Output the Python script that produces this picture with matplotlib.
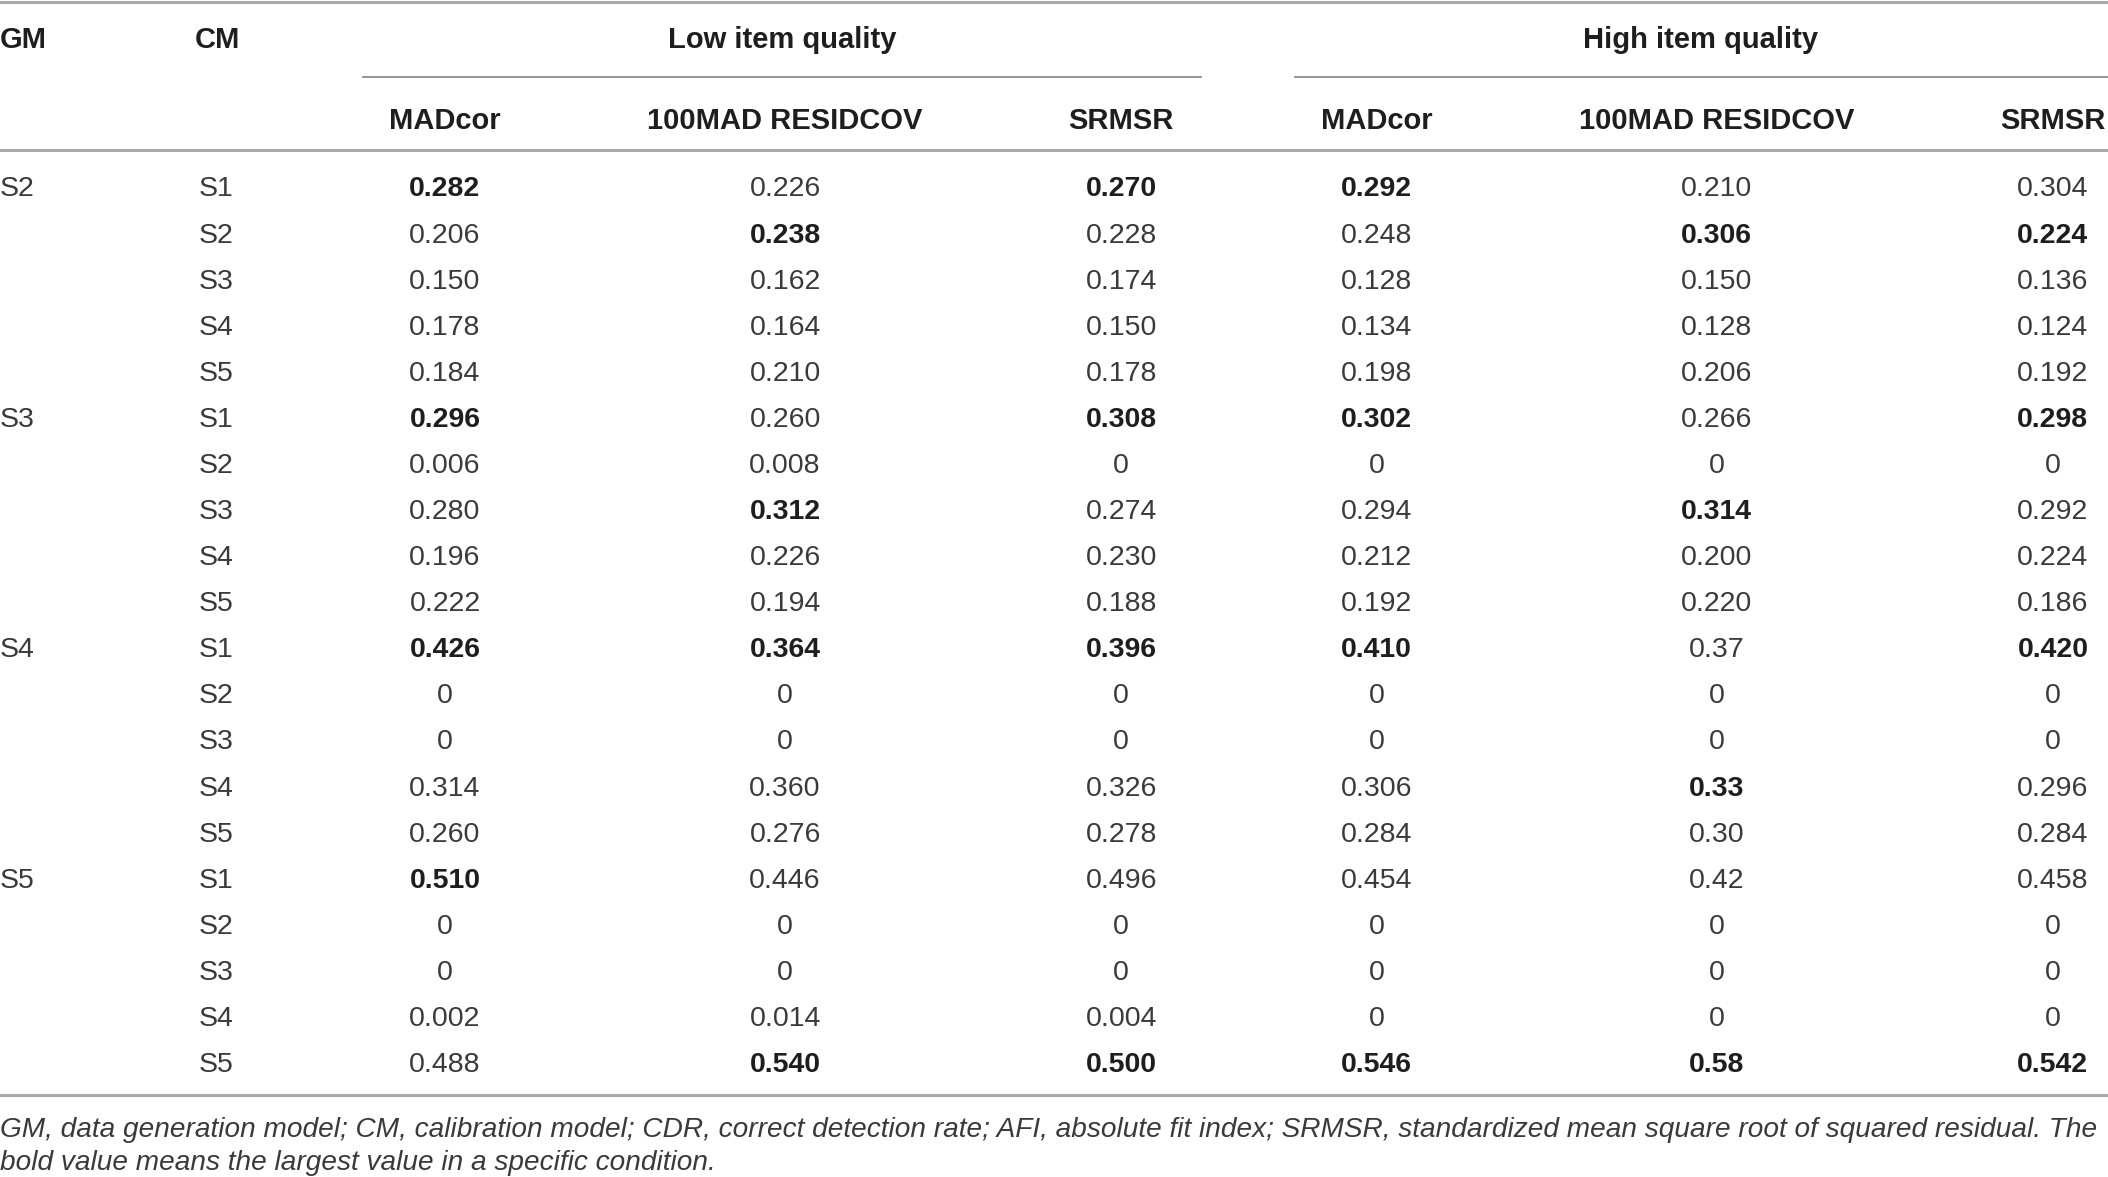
import matplotlib
matplotlib.use("Agg")
import matplotlib.pyplot as plt

# table content
col_heads = ["MADcor", "100MAD RESIDCOV", "SRMSR", "MADcor", "100MAD RESIDCOV", "SRMSR"]
groups = ["Low item quality", "High item quality"]
gm_labels = ["S2", "S3", "S4", "S5"]
cm_labels = ["S1", "S2", "S3", "S4", "S5"]

low_madcor = ["0.282", "0.206", "0.150", "0.178", "0.184", "0.296", "0.006", "0.280", "0.196", "0.222",
              "0.426", "0", "0", "0.314", "0.260", "0.510", "0", "0", "0.002", "0.488"]
low_resid = ["0.226", "0.238", "0.162", "0.164", "0.210", "0.260", "0.008", "0.312", "0.226", "0.194",
             "0.364", "0", "0", "0.360", "0.276", "0.446", "0", "0", "0.014", "0.540"]
low_srmsr = ["0.270", "0.228", "0.174", "0.150", "0.178", "0.308", "0", "0.274", "0.230", "0.188",
             "0.396", "0", "0", "0.326", "0.278", "0.496", "0", "0", "0.004", "0.500"]
high_madcor = ["0.292", "0.248", "0.128", "0.134", "0.198", "0.302", "0", "0.294", "0.212", "0.192",
               "0.410", "0", "0", "0.306", "0.284", "0.454", "0", "0", "0", "0.546"]
high_resid = ["0.210", "0.306", "0.150", "0.128", "0.206", "0.266", "0", "0.314", "0.200", "0.220",
              "0.37", "0", "0", "0.33", "0.30", "0.42", "0", "0", "0", "0.58"]
high_srmsr = ["0.304", "0.224", "0.136", "0.124", "0.192", "0.298", "0", "0.292", "0.224", "0.186",
              "0.420", "0", "0", "0.296", "0.284", "0.458", "0", "0", "0", "0.542"]

# (row, column) of the bold cells
bold_cells = {(0, 0), (0, 2), (0, 3), (1, 1), (1, 4), (1, 5),
              (5, 0), (5, 2), (5, 3), (5, 5), (7, 1), (7, 4),
              (10, 0), (10, 1), (10, 2), (10, 3), (10, 5), (13, 4),
              (15, 0), (19, 1), (19, 2), (19, 3), (19, 4), (19, 5)}

footnote = ["GM, data generation model; CM, calibration model; CDR, correct detection rate; AFI, absolute fit index; "
            "SRMSR, standardized mean square root of squared residual. The",
            "bold value means the largest value in a specific condition."]

plt.rcParams['font.family'] = ['Liberation Sans', 'DejaVu Sans']

W, H = 1568, 876
fig = plt.figure(figsize=(21.08, 11.77), dpi=100)
ax = fig.add_axes([0, 0, 1, 1])
ax.set_xlim(0, W)
ax.set_ylim(H, 0)
ax.axis("off")

fs = 20.5
hfs = 21
rule = "#a8a8a8"
txt = "#3a3a3a"
dark = "#1e1e1e"

cols = [low_madcor, low_resid, low_srmsr, high_madcor, high_resid, high_srmsr]
col_x = [331, 584, 834, 1024, 1277, 1527]

# rules
ax.plot([0, W], [1.5, 1.5], color=rule, lw=2.2)
ax.plot([270, 893], [57, 57], color="#8c8c8c", lw=1.3)
ax.plot([963, W], [57, 57], color="#8c8c8c", lw=1.3)
ax.plot([0, W], [112, 112], color=rule, lw=2.2)
ax.plot([0, W], [815, 815], color=rule, lw=2.2)

# headers
ax.text(0, 30, "GM", fontsize=hfs, fontweight="bold", color=dark, ha="left", va="center")
ax.text(145, 30, "CM", fontsize=hfs, fontweight="bold", color=dark, ha="left", va="center")
ax.text(582, 30, groups[0], fontsize=hfs, fontweight="bold", color=dark, ha="center", va="center")
ax.text(1265, 30, groups[1], fontsize=hfs, fontweight="bold", color=dark, ha="center", va="center")
for x, h in zip(col_x, col_heads):
    ax.text(x, 90, h, fontsize=hfs, fontweight="bold", color=dark, ha="center", va="center")

# body
y0, dy = 141, 34.3
for i in range(20):
    y = y0 + i * dy
    if i % 5 == 0:
        ax.text(0, y, gm_labels[i // 5], fontsize=fs, color=txt, ha="left", va="center")
    ax.text(161, y, cm_labels[i % 5], fontsize=fs, color=txt, ha="center", va="center")
    for j, (x, c) in enumerate(zip(col_x, cols)):
        b = (i, j) in bold_cells
        ax.text(x, y, c[i], fontsize=fs, fontweight="bold" if b else "normal",
                color=dark if b else txt, ha="center", va="center")

# footnote
for k, line in enumerate(footnote):
    ax.text(0, 841 + k * 24.5, line, fontsize=20.2, style="italic", color=txt, ha="left", va="center")

fig.savefig("out.png", dpi=100)
